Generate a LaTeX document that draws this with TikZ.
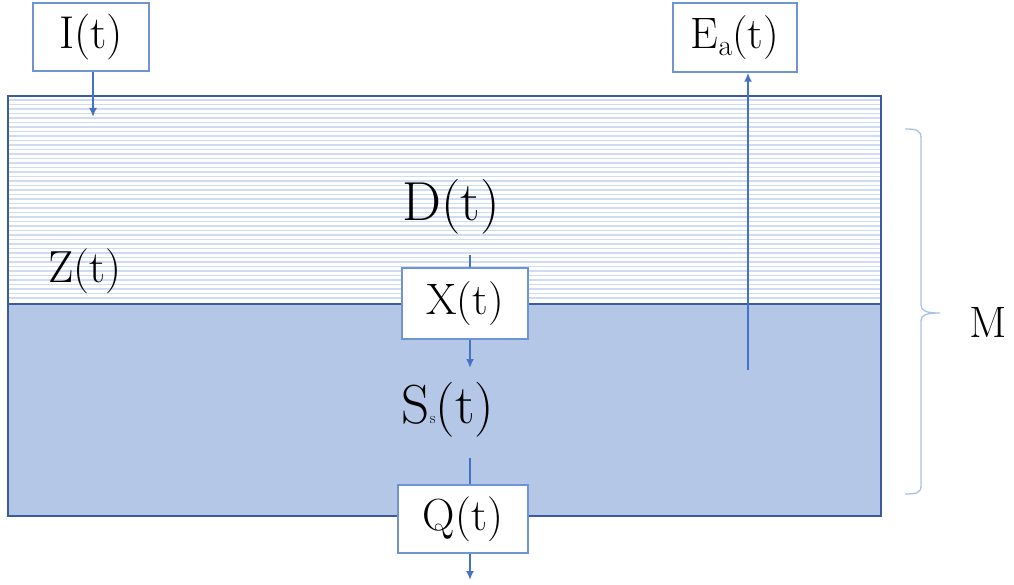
\documentclass[tikz,border=0pt]{standalone}
\usetikzlibrary{arrows.meta}
\definecolor{arrowblue}{HTML}{4472C4}
\definecolor{boxblue}{HTML}{6F93D3}
\definecolor{edgeblue}{HTML}{3A5C9E}
\definecolor{fillblue}{HTML}{B4C7E7}
\definecolor{hatchblue}{HTML}{CFDBF1}
\definecolor{braceblue}{HTML}{A9C1E8}
\tikzset{
  labelbox/.style={draw=boxblue, line width=1.5pt, fill=white, inner sep=0pt, anchor=center},
  flow/.style={draw=arrowblue, line width=2.4pt, -{Latex[length=9pt,width=8pt]}},
  flowline/.style={draw=arrowblue, line width=2.4pt},
  hatchline/.style={draw=hatchblue, line width=1.4pt},
  labeltext/.style={inner sep=0pt, anchor=center},
}
\newcommand{\fs}[1]{\fontsize{#1}{#1}\selectfont}
\begin{document}
\begin{tikzpicture}[x=1pt,y=-1pt]
\useasboundingbox (0,0) rectangle (1014,585);
% layers
\fill[white] (8,96) rectangle (881,304);
\foreach \y in {100,104.5,...,302} \draw[hatchline] (8,\y) -- (881,\y);
\fill[fillblue] (8,304) rectangle (881,516);
\draw[edgeblue, line width=1.6pt] (8,96) rectangle (881,516);
\draw[edgeblue, line width=1.6pt] (8,304) -- (881,304);
% boxes
\node[labelbox, minimum width=116pt, minimum height=68pt] (I) at (91,37) {\fs{46}I(t)};
\node[labelbox, minimum width=124pt, minimum height=69pt] (E) at (735,37.5) {\fs{44}E\raisebox{-7pt}{\fs{30}a}(t)};
\node[labelbox, minimum width=126pt, minimum height=71pt] (X) at (465,303.5) {\fs{44}X(t)};
\node[labelbox, minimum width=130pt, minimum height=68pt] (Q) at (463,519) {\fs{45}Q(t)};
% texts
\node[labeltext] (D) at (451,207) {\fs{55}D(t)};
\node[labeltext] (S) at (448,410) {\fs{55}S{\fs{16}s}(t)};
\node[labeltext] (Z) at (85,271) {\fs{45}Z(t)};
\node[labeltext] (M) at (988,322) {\fs{44}M};
% coordinates
\coordinate (Iend) at (93,117);
\coordinate (Estart) at (748,370);
\coordinate (Dstart) at (470,255);
\coordinate (Xend) at (470,368);
\coordinate (Sstart) at (470,458);
\coordinate (Qend) at (470,580);
% connectors
\draw[flow] (I.south -| Iend) -- (Iend);
\draw[flow] (Estart) -- (E.south -| Estart);
\draw[flowline] (Dstart) -- (X.north -| Dstart);
\draw[flow] (X.south -| Xend) -- (Xend);
\draw[flowline] (Sstart) -- (Q.north -| Sstart);
\draw[flow] (Q.south -| Qend) -- (Qend);
% brace
\draw[braceblue, line width=1.3pt]
  (905,129) .. controls (916,129) and (921,130) .. (921,138)
  -- (921,305) .. controls (921,311) and (926,313) .. (940,313)
  .. controls (926,313) and (921,315) .. (921,321)
  -- (921,486) .. controls (921,493) and (916,494) .. (905,494);
\end{tikzpicture}
\end{document}
